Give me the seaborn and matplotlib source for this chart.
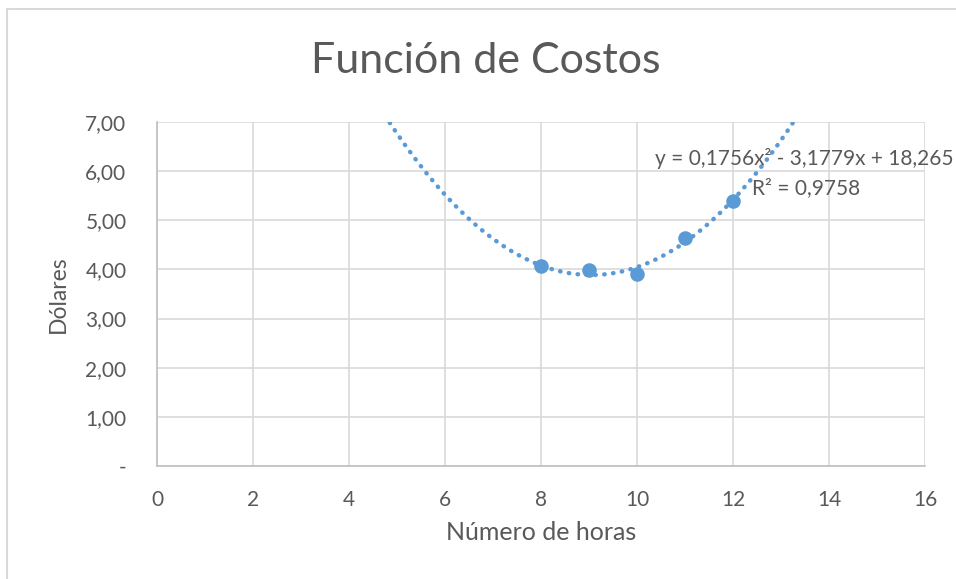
import numpy as np
import pandas as pd
import matplotlib
matplotlib.use("Agg")
import matplotlib.pyplot as plt
import seaborn as sns
from matplotlib.patches import Rectangle

# ---- data ----
horas = [8, 9, 10, 11, 12]
dolares = [4.06, 3.98, 3.91, 4.64, 5.39]
coef = [0.1756, -3.1779, 18.265]   # trendline y = a x^2 + b x + c
r2 = 0.9758
x_ticks = [0, 2, 4, 6, 8, 10, 12, 14, 16]
y_ticks = [0, 1, 2, 3, 4, 5, 6, 7]
title = "Función de Costos"
xlabel = "Número de horas"
ylabel = "Dólares"

sns.set_theme(style="white")
plt.rcParams['font.family'] = ['Lato', 'DejaVu Sans']

W, H = 956, 579
fig = plt.figure(figsize=(W / 100, H / 100), dpi=100)

# chart border
fig.patches.append(Rectangle((7 / W, -0.1), 1.2, 1 - 9 / H + 0.1, transform=fig.transFigure,
                             fill=False, edgecolor="#d9d9d9", linewidth=1.5))

ax = fig.add_axes([157 / W, 1 - 466 / H, 768 / W, 344 / H])

blue = "#5b9bd5"
txt = "#595959"

df = pd.DataFrame({"x": horas, "y": dolares})
xs = np.linspace(0, 16, 400)
trend = pd.DataFrame({"x": xs, "y": np.polyval(coef, xs)})

sns.lineplot(data=trend, x="x", y="y", ax=ax, color=blue, linewidth=3.2,
             linestyle=(0, (0.1, 1.9)), dash_capstyle="round", zorder=2)
sns.scatterplot(data=df, x="x", y="y", ax=ax, color=blue, s=110, edgecolor=blue,
                linewidth=0, zorder=3)

ax.set_xlim(0, 16)
ax.set_ylim(0, 7)
ax.set_xticks(x_ticks)
ax.set_yticks(y_ticks)
ax.set_xticklabels([str(v) for v in x_ticks])
ax.set_yticklabels(["-" if v == 0 else f"{v:.2f}".replace(".", ",") for v in y_ticks])
ax.grid(True, color="#d9d9d9", linewidth=1.2)
ax.set_axisbelow(True)
for s in ["top", "right"]:
    ax.spines[s].set_visible(False)
for s in ["left", "bottom"]:
    ax.spines[s].set_color("#bfbfbf")
    ax.spines[s].set_linewidth(1.2)
ax.tick_params(axis="both", length=0, labelsize=15, labelcolor=txt)
ax.tick_params(axis="x", pad=17)
ax.tick_params(axis="y", pad=22)
ax.set_xlabel(xlabel, fontsize=18, color=txt, labelpad=8)
ax.set_ylabel(ylabel, fontsize=16.5, color=txt, labelpad=12)

fig.text(486 / W, 1 - 61 / H, title, ha="center", va="center", fontsize=31, color=txt)

eq = "y = {:.4f}x² - {:.4f}x + {:.3f}".format(coef[0], -coef[1], coef[2]).replace(".", ",")
ax.text(10.375, 6.25, eq, fontsize=15, color=txt, ha="left", va="center", clip_on=False)
ax.text(12.4, 5.66, "R² = " + f"{r2:.4f}".replace(".", ","), fontsize=15, color=txt,
        ha="left", va="center", clip_on=False)

fig.savefig("out.png", dpi=100)
